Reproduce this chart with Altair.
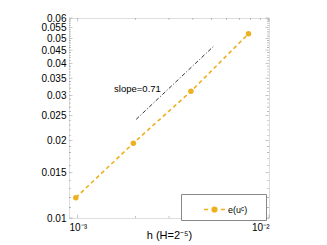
import altair as alt
import pandas as pd

# data
h_vals = [2**-10, 2**-9, 2**-8, 2**-7]
err_vals = [0.0120, 0.01955, 0.0311, 0.0521]
slope_x = [0.00202, 0.00512]
slope_y = [0.0242, 0.0465]
slope_label = "slope=0.71"
series_name = "e(uᶜ)"
x_major = [0.001, 0.01]
x_minor = [0.002, 0.003, 0.004, 0.005, 0.006, 0.007, 0.008, 0.009]
y_major = [0.01, 0.015, 0.02, 0.025, 0.03, 0.035, 0.04, 0.045, 0.05, 0.055, 0.06]
y_minor = [v / 1000 for v in range(11, 60) if v % 5 != 0]

ORANGE = "#EDB120"
FONT = "Liberation Sans"
XDOM = [0.0009, 0.01]
YDOM = [0.01, 0.06]

xs = alt.Scale(type="log", domain=XDOM, nice=False)
ys = alt.Scale(type="log", domain=YDOM, nice=False)

df = pd.DataFrame({"h": h_vals, "e": err_vals, "s": [series_name] * len(h_vals)})
sl = pd.DataFrame({"h": slope_x, "e": slope_y})
txt = pd.DataFrame({"h": [0.00272], "e": [0.0319], "t": [slope_label]})

legend_path = ("M-1,0L-0.6,0M0.6,0L1,0"
               "M-0.22,0A0.22,0.22,0,1,1,0.22,0A0.22,0.22,0,1,1,-0.22,0Z")
pad = "\u2800" * 2

line = alt.Chart(df).mark_line(strokeDash=[4, 3], strokeWidth=1.6).encode(
    x=alt.X("h:Q", scale=xs,
            axis=alt.Axis(values=x_major, ticks=False, domain=False, grid=False,
                          labelExpr="datum.value < 0.005 ? '10⁻³' : '10⁻²'",
                          labelOverlap=False,
                          title="h (H=2⁻⁵)", titleFontWeight="normal",
                          labelPadding=4, titlePadding=-3)),
    y=alt.Y("e:Q", scale=ys,
            axis=alt.Axis(values=y_major, ticks=False, domain=False, grid=False,
                          labelOverlap=False, labelBound=False,
                          format="~g", title=None, labelPadding=3)),
    color=alt.Color("s:N", scale=alt.Scale(range=[ORANGE]),
                    legend=alt.Legend(title=None, orient="none", legendX=112, legendY=176,
                                      symbolType=legend_path, symbolSize=440,
                                      symbolFillColor=ORANGE, symbolStrokeColor=ORANGE,
                                      symbolStrokeWidth=1.6, symbolOffset=18,
                                      strokeColor="#888888", fillColor="white",
                                      padding=4, labelFontSize=9, labelFont=FONT,
                                      labelColor="black", labelOffset=2,
                                      labelExpr="datum.label + '" + pad + "'")),
)
pts = alt.Chart(df).mark_circle(size=30, opacity=1, color=ORANGE).encode(
    x=alt.X("h:Q", scale=xs), y=alt.Y("e:Q", scale=ys))

slope = alt.Chart(sl).mark_line(color="black", strokeWidth=0.8, strokeDash=[4, 2, 1, 2]).encode(
    x=alt.X("h:Q", scale=xs), y=alt.Y("e:Q", scale=ys))

label = alt.Chart(txt).mark_text(align="right", baseline="middle", fontSize=9.5,
                                 font=FONT, color="black").encode(
    x=alt.X("h:Q", scale=xs), y=alt.Y("e:Q", scale=ys), text="t:N")

TC = "#777777"
def xticks(vals, length, top):
    d = pd.DataFrame({"h": vals})
    yv = length / 2 if top else 200 - length / 2
    return alt.Chart(d).mark_tick(color=TC, thickness=0.6, size=length).encode(
        x=alt.X("h:Q", scale=xs), y=alt.value(yv))

def yticks(vals, length, right):
    d = pd.DataFrame({"e": vals})
    xv = 200 - length / 2 if right else length / 2
    return alt.Chart(d).mark_tick(color=TC, thickness=0.6, size=length).encode(
        y=alt.Y("e:Q", scale=ys), x=alt.value(xv))

ticks = [xticks(x_major, 3.5, False), xticks(x_major, 3.5, True),
         xticks(x_minor, 2, False), xticks(x_minor, 2, True),
         yticks(y_major, 3.5, False), yticks(y_major, 3.5, True),
         yticks(y_minor, 2, False), yticks(y_minor, 2, True)]

chart = alt.layer(*ticks, slope, line, pts, label).properties(
    width=200, height=200,
    autosize=alt.AutoSizeParams(type="none"),
    padding={"left": 61, "top": 10, "right": 50, "bottom": 30},
).configure_view(stroke="#888888", strokeWidth=0.8).configure_axis(
    labelFont=FONT, labelFontSize=8.5, labelColor="black",
    titleFont=FONT, titleFontSize=9, titleColor="black", titleFontWeight="normal",
).configure(background="white")

chart.save("out.html", embed_options={"renderer": "svg", "actions": False})
